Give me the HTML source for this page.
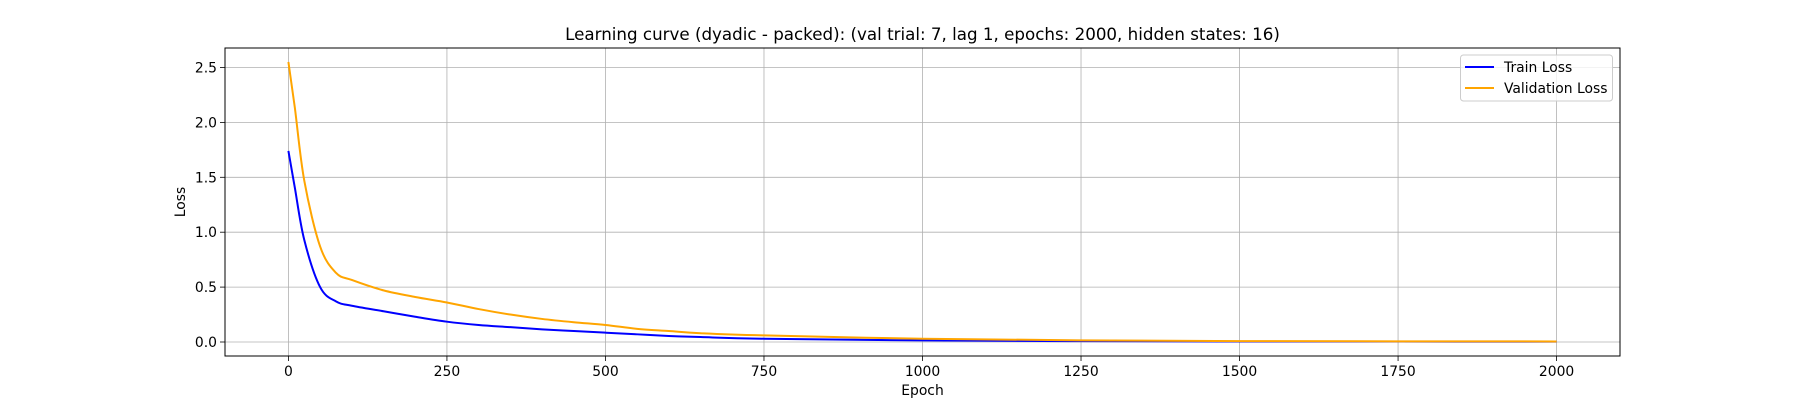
<!DOCTYPE html>
<html><head><meta charset="utf-8"><style>
body{margin:0;background:#fff}
svg{display:block;font-family:"DejaVu Sans","Liberation Sans",sans-serif}
</style></head><body>
<svg id="chart" width="1800" height="400" viewBox="0 0 1800 400" xmlns="http://www.w3.org/2000/svg">
<rect width="1800" height="400" fill="#fff"/>
<text x="922.5" y="40" font-size="16.7" text-anchor="middle">Learning curve (dyadic - packed): (val trial: 7, lag 1, epochs: 2000, hidden states: 16)</text>
<g id="grid"></g>
<g id="series"></g>
<rect x="225" y="48" width="1395" height="308" fill="none" stroke="#000" stroke-width="1"/>
<g id="ticks"></g>
<text x="922.5" y="395" font-size="13.9" text-anchor="middle">Epoch</text>
<text transform="translate(185,202) rotate(-90)" font-size="13.9" text-anchor="middle">Loss</text>
<g>
<rect x="1460.5" y="55" width="152" height="46" rx="3" fill="#fff" fill-opacity="0.8" stroke="#ccc"/>
<line x1="1465" y1="67" x2="1494" y2="67" stroke="#0000ff" stroke-width="2"/>
<text x="1504" y="72" font-size="13.9">Train Loss</text>
<line x1="1465" y1="88" x2="1494" y2="88" stroke="#ffa500" stroke-width="2"/>
<text x="1504" y="93" font-size="13.9">Validation Loss</text>
</g>
</svg>
<script>
const epochs = [0,10,25,50,75,100,150,200,250,300,350,400,450,500,550,600,650,750,1000,1250,1500,1750,2000];
const trainLoss = [1.74,1.41,0.93,0.50,0.37,0.33,0.28,0.23,0.185,0.155,0.135,0.115,0.10,0.085,0.07,0.055,0.045,0.03,0.015,0.008,0.005,0.004,0.003];
const valLoss = [2.55,2.14,1.47,0.87,0.63,0.565,0.47,0.41,0.36,0.30,0.25,0.21,0.18,0.155,0.12,0.10,0.08,0.06,0.03,0.015,0.008,0.006,0.005];
const xTicks = [0,250,500,750,1000,1250,1500,1750,2000];
const yTicks = [0,0.5,1.0,1.5,2.0,2.5];
const yTickLabels = ["0.0","0.5","1.0","1.5","2.0","2.5"];

const NS="http://www.w3.org/2000/svg";
const L=225,R=1620,T=48,B=356;
const xMin=-100,xMax=2100,yMin=-0.1275,yMax=2.6775;
function sx(v){return L+(v-xMin)/(xMax-xMin)*(R-L);}
function sy(v){return B-(v-yMin)/(yMax-yMin)*(B-T);}
function mk(tag,attrs,parent){const e=document.createElementNS(NS,tag);for(const k in attrs)e.setAttribute(k,attrs[k]);parent.appendChild(e);return e;}
const grid=document.getElementById('grid'),ticks=document.getElementById('ticks'),series=document.getElementById('series');
xTicks.forEach(v=>{
  const x=sx(v);
  const g=mk('line',{x1:x,x2:x,y1:T,y2:B,stroke:'#b0b0b0','stroke-width':0.8},grid);
  
  
  mk('line',{x1:x,x2:x,y1:B,y2:B+5,stroke:'#000','stroke-width':0.8},ticks);
  const t=mk('text',{x:x,y:B+20,'font-size':13.9,'text-anchor':'middle'},ticks);
  t.textContent=String(v);
  
  
});
yTicks.forEach((v,i)=>{
  const y=sy(v);
  const g=mk('line',{x1:L,x2:R,y1:y,y2:y,stroke:'#b0b0b0','stroke-width':0.8},grid);
  
  
  mk('line',{x1:L-5,x2:L,y1:y,y2:y,stroke:'#000','stroke-width':0.8},ticks);
  const t=mk('text',{x:L-8,y:y+5,'font-size':13.9,'text-anchor':'end'},ticks);
  t.textContent=yTickLabels[i];
  
  
});
function path(vals){
  // monotone-ish smoothing via Catmull-Rom
  const p=epochs.map((e,i)=>[sx(e),sy(vals[i])]);
  let d='M'+p[0][0]+','+p[0][1];
  for(let i=0;i<p.length-1;i++){
    const p0=p[Math.max(0,i-1)],p1=p[i],p2=p[i+1],p3=p[Math.min(p.length-1,i+2)];
    const c1=[p1[0]+(p2[0]-p0[0])/6,p1[1]+(p2[1]-p0[1])/6];
    const c2=[p2[0]-(p3[0]-p1[0])/6,p2[1]-(p3[1]-p1[1])/6];
    d+=' C'+c1+' '+c2+' '+p2;
  }
  return d;
}
const tl=mk('path',{d:path(trainLoss),fill:'none',stroke:'#0000ff','stroke-width':2},series);


const vl=mk('path',{d:path(valLoss),fill:'none',stroke:'#ffa500','stroke-width':2},series);


</script>
</body></html>
